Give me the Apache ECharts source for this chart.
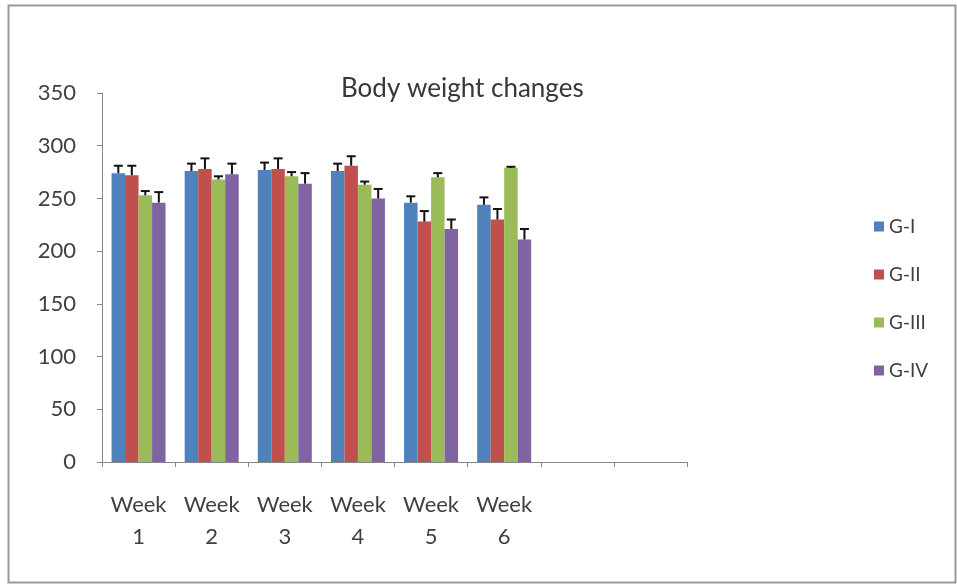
<!DOCTYPE html>
<html lang="en">
<head>
    <meta charset="UTF-8">
    <title>Body weight changes</title>
    <script src="https://cdn.jsdelivr.net/npm/echarts@6/dist/echarts.min.js"></script>
    <style>
        html, body { margin: 0; padding: 0; background: #fff; }
        #main { width: 957px; height: 587px; }
    </style>
</head>
<body>
    <div id="main"></div>
    <script type="text/javascript">
        // data
        var categories = ['Week\n1', 'Week\n2', 'Week\n3', 'Week\n4', 'Week\n5', 'Week\n6', '', ''];
        var groupNames = ['G-I', 'G-II', 'G-III', 'G-IV'];
        var gI = [274, 276, 277, 276, 246, 244];
        var gII = [272, 278, 278, 281, 228, 230];
        var gIII = [253, 268, 271, 263, 270, 279];
        var gIV = [246, 273, 264, 250, 221, 211];
        var gIErr = [7, 7, 7, 7, 6, 7];
        var gIIErr = [9, 10, 10, 9, 10, 10];
        var gIIIErr = [4, 3, 4, 3, 4, 1];
        var gIVErr = [10, 10, 10, 9, 9, 10];
        var yTicks = [0, 50, 100, 150, 200, 250, 300, 350];

        var values = [gI, gII, gIII, gIV];
        var errors = [gIErr, gIIErr, gIIIErr, gIVErr];
        var colors = ['#4F81BD', '#C0504D', '#9BBB59', '#8064A2'];
        var barW = 13.5;
        var textColor = '#404040';
        var font = 'Lato, "Open Sans", sans-serif';

        var myChart = echarts.init(document.getElementById('main'));

        var series = [];
        values.forEach(function (v, i) {
            series.push({
                name: groupNames[i],
                type: 'bar',
                data: v,
                barWidth: barW,
                barGap: '0%',
                itemStyle: { color: colors[i] }
            });
        });
        // upper error bars, one custom series per group
        values.forEach(function (v, i) {
            series.push({
                type: 'custom',
                silent: true,
                z: 5,
                data: v.map(function (val, k) { return [k, val, val + errors[i][k]]; }),
                renderItem: function (params, api) {
                    var x = api.coord([api.value(0), api.value(1)])[0] + (i - 1.5) * barW;
                    var yLow = api.coord([api.value(0), api.value(1)])[1];
                    var yHigh = api.coord([api.value(0), api.value(2)])[1];
                    var half = 4.5;
                    var style = { stroke: '#111', lineWidth: 2 };
                    return {
                        type: 'group',
                        children: [
                            { type: 'line', shape: { x1: x, y1: yLow, x2: x, y2: yHigh }, style: style },
                            { type: 'line', shape: { x1: x - half, y1: yHigh, x2: x + half, y2: yHigh }, style: style }
                        ]
                    };
                }
            });
        });

        var option = {
            animation: false,
            textStyle: { fontFamily: font },
            title: {
                text: 'Body weight changes',
                left: 336,
                top: 71,
                textStyle: { fontSize: 26, fontWeight: 'normal', color: '#383838', fontFamily: font }
            },
            graphic: [{
                type: 'rect',
                shape: { x: 8.5, y: 5.5, width: 947, height: 577 },
                style: { fill: 'none', stroke: '#9a9a9a', lineWidth: 2 },
                silent: true
            }],
            legend: {
                data: groupNames,
                orient: 'vertical',
                left: 869,
                top: 212,
                itemWidth: 10,
                itemHeight: 10,
                itemGap: 29,
                icon: 'rect',
                textStyle: { fontSize: 19, lineHeight: 19, color: textColor, fontFamily: font }
            },
            grid: { left: 102, right: 270, top: 93, bottom: 125 },
            xAxis: {
                type: 'category',
                data: categories,
                axisLine: { lineStyle: { color: '#868686', width: 1 } },
                axisTick: { show: true, length: 5, lineStyle: { color: '#868686' } },
                axisLabel: {
                    interval: 0,
                    margin: 27,
                    fontSize: 22,
                    lineHeight: 32,
                    color: textColor,
                    fontFamily: font
                }
            },
            yAxis: {
                type: 'value',
                min: yTicks[0],
                max: yTicks[yTicks.length - 1],
                interval: 50,
                splitLine: { show: false },
                axisLine: { show: true, lineStyle: { color: '#868686', width: 1 } },
                axisTick: { show: true, length: 5, lineStyle: { color: '#868686' } },
                axisLabel: { margin: 26, fontSize: 22, color: textColor, fontFamily: font }
            },
            series: series
        };
        myChart.setOption(option);
    </script>
</body>
</html>
